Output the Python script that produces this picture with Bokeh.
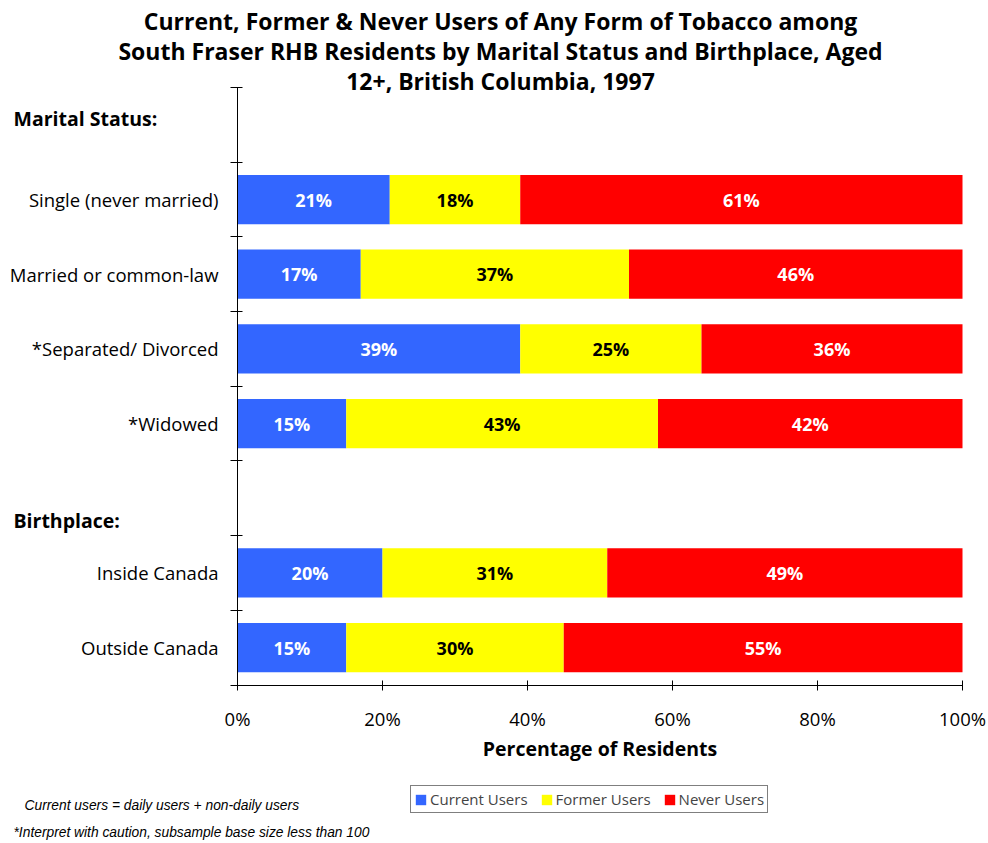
from bokeh.plotting import figure
from bokeh.models import (ColumnDataSource, FixedTicker, Legend, LegendItem, Label, Range1d)
from bokeh.core.properties import value
from bokeh.embed import file_html
from bokeh.resources import INLINE

# ---- data ----
categories = ["Single (never married)", "Married or common-law", "*Separated/ Divorced",
              "*Widowed", "Inside Canada", "Outside Canada"]
row_pos = [6.5, 5.5, 4.5, 3.5, 1.5, 0.5]
current_users = [21, 17, 39, 15, 20, 15]
former_users = [18, 37, 25, 43, 31, 30]
never_users = [61, 46, 36, 42, 49, 55]
series_names = ["Current Users", "Former Users", "Never Users"]
series_colors = ["#3366FF", "#FFFF00", "#FF0000"]
label_colors = ["white", "black", "white"]
group_headers = ["Marital Status:", "Birthplace:"]
x_ticks = [0, 20, 40, 60, 80, 100]
x_tick_labels = ["0%", "20%", "40%", "60%", "80%", "100%"]
title_lines = ["Current, Former & Never Users of Any Form of Tobacco among",
               "South Fraser RHB Residents by Marital Status and Birthplace, Aged",
               "12+, British Columbia, 1997"]
footnotes = ["Current users = daily users + non-daily users",
             "*Interpret with caution, subsample base size less than 100"]

FONT = "Open Sans"
W, H = 988, 843

# pixel -> data mapping (plot area: x 237..962 px = 0..100, y 684.5..87 px = 0..8)
XS = 725 / 100.0
YS = 597.5 / 8.0
def dx(px):
    return (px - 237) / XS
def dy(py):
    return (684.5 - py) / YS

src = ColumnDataSource(dict(y=row_pos, current=current_users, former=former_users,
                            never=never_users))

p = figure(width=W, height=H, min_border=0,
           x_range=Range1d(dx(0), dx(W)), y_range=Range1d(dy(H), dy(0)),
           output_backend="svg", toolbar_location=None, tools="")
p.outline_line_color = None
p.xgrid.visible = False
p.ygrid.visible = False

renderers = p.hbar_stack(["current", "former", "never"], y="y", height=0.66,
                         source=src, color=series_colors, line_color=None)

# value labels
tx, ty, tt, tc = [], [], [], []
for i in range(len(categories)):
    vals = [current_users[i], former_users[i], never_users[i]]
    left = 0
    for j, v in enumerate(vals):
        tx.append(left + v / 2)
        ty.append(row_pos[i])
        tt.append(f"{v}%")
        tc.append(label_colors[j])
        left += v
p.text(x="x", y="y", text="t", text_color="c",
       source=ColumnDataSource(dict(x=tx, y=ty, t=tt, c=tc)),
       text_align="center", text_baseline="middle", text_font=value(FONT),
       text_font_style="bold", text_font_size="18px")

# y axis
yax = p.yaxis[0]
yax.fixed_location = 0
yax.bounds = (0, 8)
yax.ticker = FixedTicker(ticks=row_pos, minor_ticks=[0, 1, 2, 3, 4, 5, 6, 7, 8])
yax.major_label_overrides = {pos: lab for pos, lab in zip(row_pos, categories)}
yax.major_tick_in = 0
yax.major_tick_out = 0
yax.major_label_standoff = 12
yax.minor_tick_in = 5
yax.minor_tick_out = 7
yax.minor_tick_line_color = "black"
yax.axis_line_color = "black"
yax.major_label_text_font = FONT
yax.major_label_text_font_size = "18.5px"
yax.major_label_text_color = "black"

# x axis
xax = p.xaxis[0]
xax.fixed_location = 0
xax.bounds = (0, 100)
xax.ticker = FixedTicker(ticks=x_ticks)
xax.major_label_overrides = {t: l for t, l in zip(x_ticks, x_tick_labels)}
xax.major_tick_in = 5
xax.major_tick_out = 5
xax.major_label_standoff = 16
xax.minor_tick_line_color = None
xax.major_label_text_font = FONT
xax.major_label_text_font_size = "18.5px"
xax.major_label_text_color = "black"
xax.axis_label = "Percentage of Residents"
xax.axis_label_text_font = FONT
xax.axis_label_text_font_size = "19.5px"
xax.axis_label_text_font_style = "bold"
xax.axis_label_text_color = "black"
xax.axis_label_standoff = 0

# title
for line, py in zip(title_lines, [20, 50, 80]):
    p.add_layout(Label(x=dx(500), y=dy(py), text=line, text_align="center",
                       text_baseline="middle", text_font=FONT, text_font_style="bold",
                       text_font_size="23px", text_color="black"))

# group headers
for h, py in zip(group_headers, [118, 520]):
    p.add_layout(Label(x=dx(13), y=dy(py), text=h, text_align="left",
                       text_baseline="middle", text_font=FONT, text_font_style="bold",
                       text_font_size="19.5px", text_color="black"))

# footnotes
for f, px, py in zip(footnotes, [24, 13], [805, 832]):
    p.add_layout(Label(x=dx(px), y=dy(py), text=f, text_align="left",
                       text_baseline="middle", text_font="Liberation Sans",
                       text_font_style="italic", text_font_size="13.8px",
                       text_color="black"))

legend = Legend(items=[LegendItem(label=n, renderers=[r]) for n, r in zip(series_names, renderers)],
                orientation="horizontal", location=(410, H - 813),
                border_line_color="black", border_line_width=1,
                background_fill_color="white", background_fill_alpha=1,
                label_text_font=FONT, label_text_font_size="15px",
                glyph_width=13, glyph_height=13, label_standoff=3, spacing=12,
                padding=3, margin=0, label_height=16)
p.add_layout(legend, "center")

open("out.html", "w").write(file_html(p, INLINE))
